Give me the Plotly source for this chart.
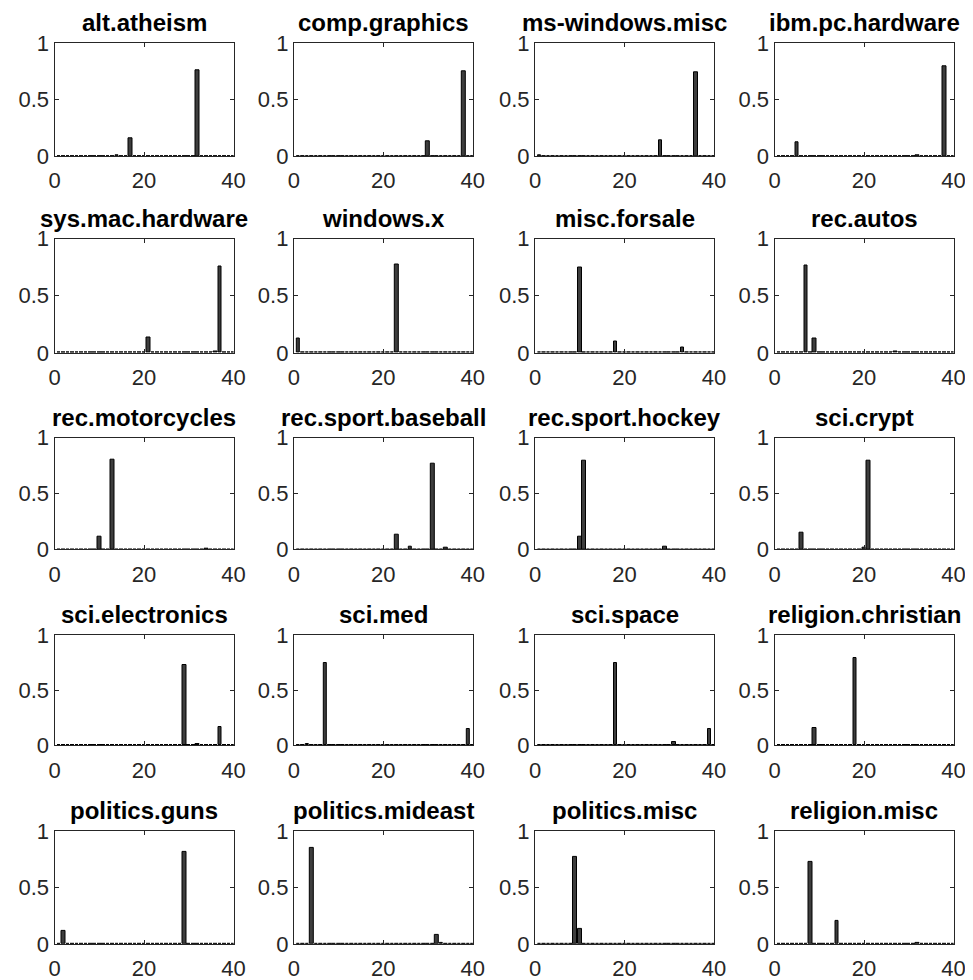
import plotly.graph_objects as go

titles = ["alt.atheism", "comp.graphics", "ms-windows.misc", "ibm.pc.hardware",
          "sys.mac.hardware", "windows.x", "misc.forsale", "rec.autos",
          "rec.motorcycles", "rec.sport.baseball", "rec.sport.hockey", "sci.crypt",
          "sci.electronics", "sci.med", "sci.space", "religion.christian",
          "politics.guns", "politics.mideast", "politics.misc", "religion.misc"]

# non-zero component indices (1..40) and their values for each panel
peak_idx = [
    [14, 17, 32], [30, 38], [1, 28, 36], [5, 32, 38],
    [21, 36, 37], [1, 23, 34], [10, 18, 29, 33], [7, 9, 27],
    [10, 13, 34], [23, 26, 31, 34], [10, 11, 29], [6, 20, 21],
    [29, 32, 37], [3, 7, 39], [18, 31, 39], [9, 18, 24],
    [2, 29], [4, 32, 33], [9, 10], [8, 14, 32],
]
peak_val = [
    [0.01, 0.154, 0.763], [0.127, 0.751], [0.005, 0.142, 0.746], [0.124, 0.004, 0.793],
    [0.131, 0.012, 0.758], [0.125, 0.770, 0.004], [0.743, 0.102, 0.003, 0.047], [0.764, 0.125, 0.015],
    [0.116, 0.800, 0.004], [0.131, 0.02, 0.770, 0.015], [0.116, 0.794, 0.02], [0.146, 0.01, 0.794],
    [0.725, 0.01, 0.166], [0.012, 0.743, 0.148], [0.743, 0.028, 0.148], [0.154, 0.795, 0.004],
    [0.118, 0.814], [0.853, 0.083, 0.004], [0.773, 0.136], [0.726, 0.20, 0.005],
]
components = list(range(1, 41))
x_ticks = [0, 20, 40]
y_ticks = [0, 0.5, 1]
y_ticklabels = ["0", "0.5", "1"]

# page has an 8px body margin: offset positions and let the figure reach the window edges
OFF = 8
W, H = 973 - OFF, 980 - OFF
col_left = [54.5, 293.8, 535.0, 774.5]
col_w = 179.0
row_top = [43.3, 238.5, 437.7, 635.0, 830.9]
row_bot = [156.0, 352.8, 549.3, 745.3, 943.8]

fig = go.Figure()
annotations = []
axis_color = "#262626"
for k, title in enumerate(titles):
    r, c = divmod(k, 4)
    vals = [0.0] * 40
    for i, v in zip(peak_idx[k], peak_val[k]):
        vals[i - 1] = v
    n = k + 1
    xa = "x" if n == 1 else f"x{n}"
    ya = "y" if n == 1 else f"y{n}"
    fig.add_trace(go.Bar(
        x=components, y=vals, width=0.8, xaxis=xa, yaxis=ya,
        marker=dict(color="#3d3d3d", line=dict(color="#000000", width=1)),
        showlegend=False,
    ))
    x0 = (col_left[c] - OFF) / W
    x1 = (col_left[c] + col_w - OFF) / W
    y1 = 1 - (row_top[r] - OFF) / H
    y0 = 1 - (row_bot[r] - OFF) / H
    common = dict(
        showgrid=False, zeroline=False, showline=True, linecolor=axis_color,
        linewidth=1, mirror="ticks", ticks="inside", ticklen=4, tickcolor=axis_color,
        tickfont=dict(family="Liberation Sans, Arial", size=22, color=axis_color),
        fixedrange=True, automargin=False,
    )
    xkey = "xaxis" if n == 1 else f"xaxis{n}"
    ykey = "yaxis" if n == 1 else f"yaxis{n}"
    fig.update_layout({
        xkey: dict(domain=[x0, x1], anchor=ya, range=[0, 40], tickvals=x_ticks,
                   ticktext=[str(t) for t in x_ticks], ticklabelstandoff=5, **common),
        ykey: dict(domain=[y0, y1], anchor=xa, range=[0, 1], tickvals=y_ticks,
                   ticktext=y_ticklabels, **common),
    })
    annotations.append(dict(
        text=f"<b>{title}</b>", x=(x0 + x1) / 2, y=y1, xref="paper", yref="paper",
        xanchor="center", yanchor="bottom", yshift=5, showarrow=False,
        font=dict(family="Liberation Sans, Arial", size=24, color="#000000"),
    ))

fig.update_layout(
    template="none",
    width=W, height=H, margin=dict(l=0, r=0, t=0, b=0, pad=0),
    paper_bgcolor="white", plot_bgcolor="white", bargap=0, showlegend=False,
    annotations=annotations,
)
fig.write_html("out.html")
